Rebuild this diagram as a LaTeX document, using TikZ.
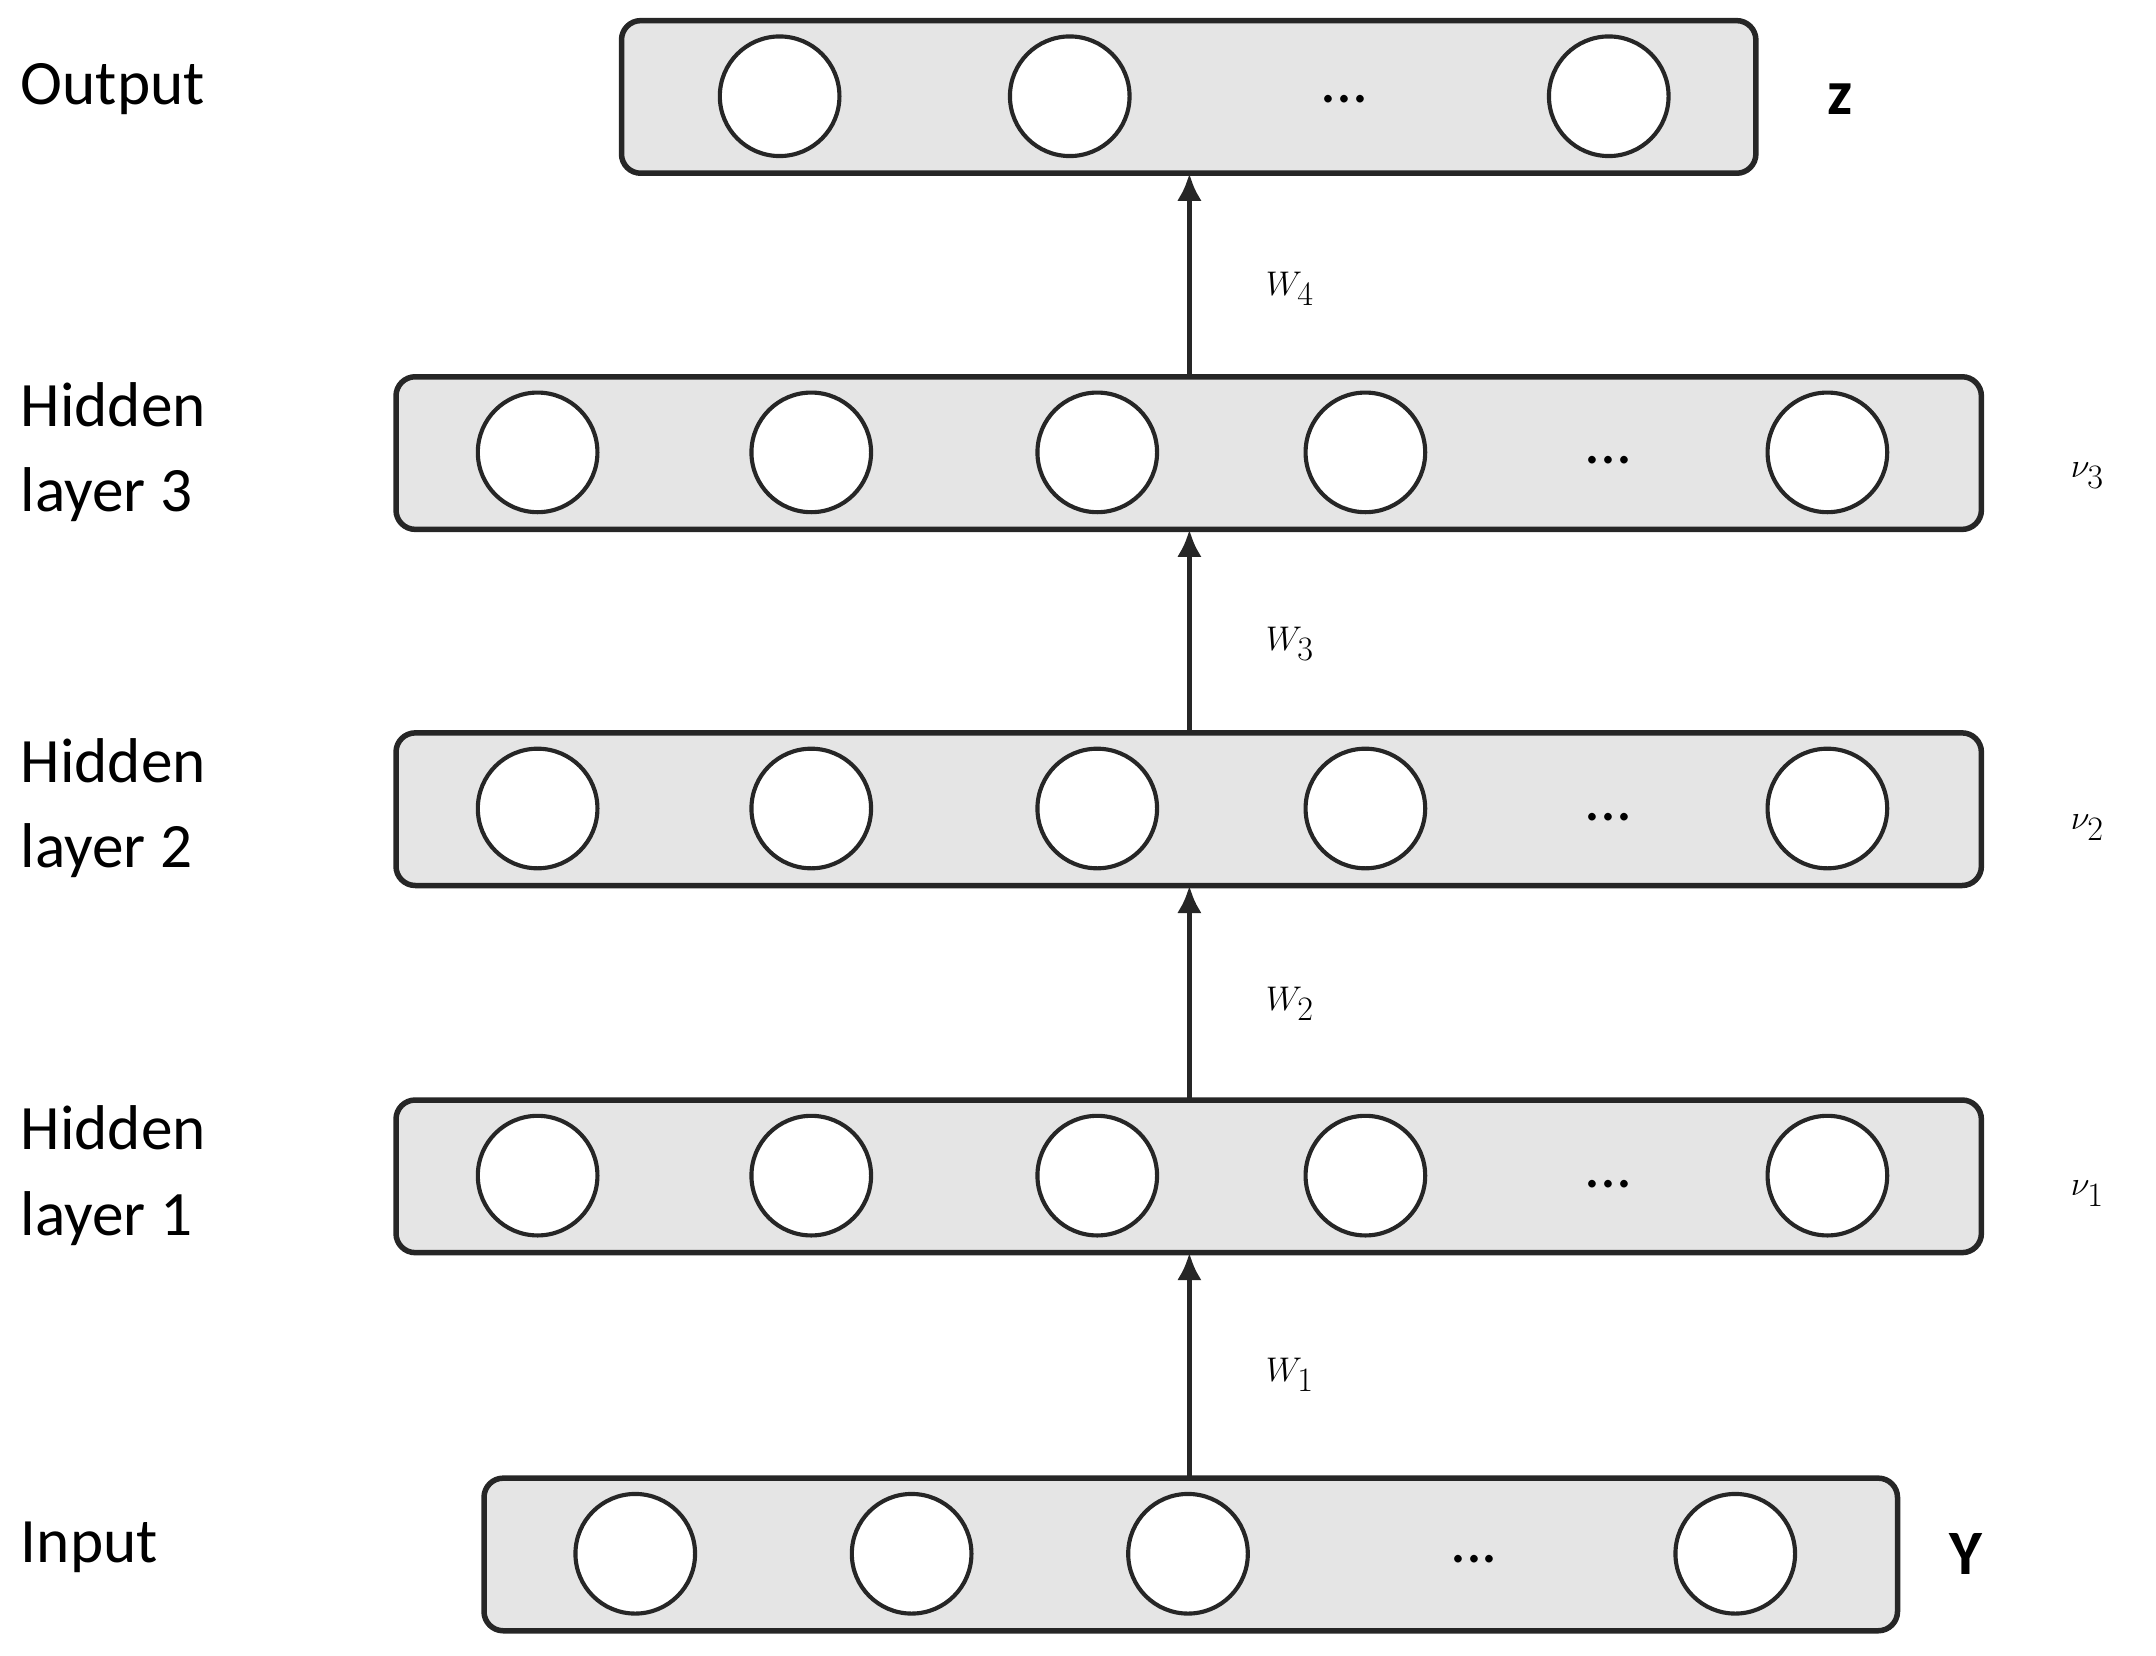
\documentclass[tikz,border=0pt]{standalone}
\usepackage{fontspec}
\setmainfont{Carlito}
\usetikzlibrary{arrows.meta}
\begin{document}
\begin{tikzpicture}[x=1pt,y=-1pt,
  layerbox/.style={draw=black!85,line width=4pt,fill=black!10,rounded corners=14pt},
  neuron/.style={draw=black!85,line width=3pt,fill=white,circle,minimum size=87pt,inner sep=0pt},
  lbl/.style={font=\fontsize{46}{62}\selectfont,anchor=west,align=left,inner sep=0pt},
  mlbl/.style={font=\fontsize{46}{56}\selectfont,inner sep=0pt},
  arr/.style={line width=4pt,draw=black!85,-{Latex[length=20pt,width=18pt]}}]
\useasboundingbox (0,0) rectangle (1568,1204);
% boxes
\draw[layerbox] (452,15) rectangle (1277,126);
\draw[layerbox] (288,274) rectangle (1441,385);
\draw[layerbox] (288,533) rectangle (1441,644);
\draw[layerbox] (288,800) rectangle (1441,911);
\draw[layerbox] (352,1075) rectangle (1380,1186);
\coordinate (outB) at (865,126);
\coordinate (h3T) at (865,274); \coordinate (h3B) at (865,385);
\coordinate (h2T) at (865,533); \coordinate (h2B) at (865,644);
\coordinate (h1T) at (865,800); \coordinate (h1B) at (865,911);
\coordinate (inT) at (865,1075);
% neurons
\foreach \x [count=\i] in {567,778,1170} \node[neuron] (o\i) at (\x,70) {};
\node[mlbl] (od) at (978,72) {...};
\foreach \y/\n in {329/a,588/b,855/c}{
  \foreach \x [count=\i] in {391,590,798,993,1329} \node[neuron] (\n\i) at (\x,\y) {};
  \node[mlbl] (\n d) at (1170,\y+6) {...};
}
\foreach \x [count=\i] in {462,663,864,1262} \node[neuron] (i\i) at (\x,1130) {};
\node[mlbl] (id) at (1072,1134) {...};
% arrows
\draw[arr] (inT) -- (h1B);
\draw[arr] (h1T) -- (h2B);
\draw[arr] (h2T) -- (h3B);
\draw[arr] (h3T) -- (outB);
% weights
\node[mlbl] (w4) at (938,210) {$W_4$};
\node[mlbl] (w3) at (938,468) {$W_3$};
\node[mlbl] (w2) at (938,730) {$W_2$};
\node[mlbl] (w1) at (938,1000) {$W_1$};
% left labels
\node[lbl] (lo) at (15,65) {Output};
\node[lbl] (l3) at (15,329) {Hidden\\layer 3};
\node[lbl] (l2) at (15,588) {Hidden\\layer 2};
\node[lbl] (l1) at (15,855) {Hidden\\layer 1};
\node[lbl] (li) at (15,1125) {Input};
% right labels
\node[mlbl] (rz) at (1338,72) {$\mathbf{z}$};
\node[mlbl] (r3) at (1518,346) {$\nu_3$};
\node[mlbl] (r2) at (1518,602) {$\nu_2$};
\node[mlbl] (r1) at (1518,868) {$\nu_1$};
\node[mlbl] (ry) at (1430,1130) {$\mathbf{Y}$};
\end{tikzpicture}
\end{document}
